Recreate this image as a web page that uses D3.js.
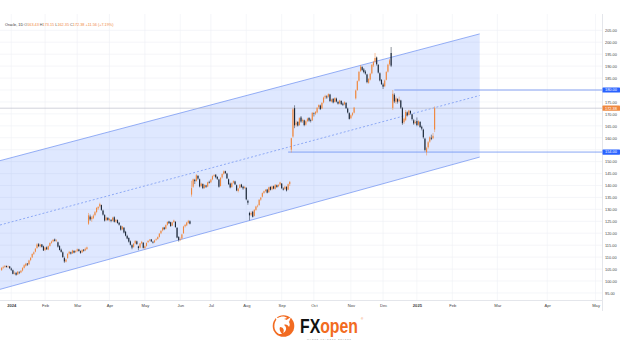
<!DOCTYPE html>
<html>
<head>
<meta charset="utf-8">
<script src="https://cdn.jsdelivr.net/npm/d3@7"></script>
<style>
    body { margin: 0; background: #fff; }
    text { font-family: "Liberation Sans", Arial, sans-serif; }
</style>
</head>
<body>
<div id="chart"></div>
<script>
// Oracle daily candles [open, high, low, close], 21 Dec 2023 .. 21 Jan 2025
// bar index of the first row (0 = 2 Jan 2024)
const firstBar = -6;
const candles = [
    [104.6,105.8,104.2,105.5],[105.6,106.4,105.1,105.9],[105.9,106.7,105.5,106.2],[106.3,106.5,105.6,105.9],
    [105.8,106.5,105.5,106.1],[106.1,106.3,105.0,105.4],
    // Jan 2024
    [105.2,105.6,104.2,104.7],[104.5,104.8,102.8,103.0],[103.1,104.0,102.7,103.3],[103.4,103.8,102.2,102.6],
    [102.8,104.2,102.5,103.9],[103.7,104.1,102.9,103.5],[103.6,104.6,103.3,104.3],[104.4,105.8,104.0,105.4],
    [105.5,107.0,105.2,106.6],[106.4,107.6,106.0,107.2],[107.3,107.5,106.3,106.9],[107.0,108.9,106.8,108.6],
    [108.8,110.0,108.3,109.7],[109.9,111.6,109.6,111.3],[111.4,112.4,110.9,112.0],[112.3,113.8,112.0,113.5],
    [113.8,115.8,113.5,115.3],[115.4,115.9,114.2,114.6],[114.6,115.6,114.0,115.2],[115.3,115.5,114.0,114.3],
    [114.5,114.8,112.6,112.8],
    // Feb
    [113.0,114.3,112.5,114.0],[114.1,114.5,113.0,113.3],[113.2,114.9,112.9,114.6],[114.7,116.2,114.4,115.9],
    [116.0,116.9,115.6,116.5],[116.6,117.6,116.2,117.2],[117.4,117.8,116.5,116.8],[116.9,117.5,116.3,117.0],
    [116.2,116.5,114.0,114.4],[114.6,115.0,112.8,113.0],[113.1,113.6,111.9,112.2],[112.0,112.4,109.7,110.0],
    [109.6,110.2,107.6,108.2],[108.1,109.3,107.8,109.0],[109.6,111.6,109.3,111.4],[111.5,112.6,111.1,112.2],
    [112.0,112.3,111.1,111.5],[111.6,113.1,111.3,112.8],[112.6,112.9,111.6,111.9],[112.1,112.9,111.8,112.5],
    // Mar
    [112.6,113.6,112.2,113.3],[113.2,113.5,112.3,112.6],[112.5,112.8,111.4,111.8],[112.0,113.3,111.7,113.0],
    [113.1,113.4,112.3,112.7],[112.8,114.0,112.5,113.5],[113.4,114.4,113.0,114.1],[124.0,128.5,123.5,127.5],
    [127.0,127.8,125.2,125.8],[125.9,127.2,124.8,126.6],[126.3,127.9,125.9,127.4],[127.6,129.3,127.1,128.8],
    [128.9,130.9,128.4,130.6],[130.4,131.4,129.7,131.0],[131.3,132.8,130.8,132.2],[131.8,132.0,129.4,129.8],
    [129.5,129.9,127.4,127.8],[127.6,128.0,124.9,125.3],[125.6,126.9,125.1,126.5],[126.4,126.8,125.2,125.6],
    // Apr
    [125.5,126.4,124.9,126.0],[125.6,125.9,124.6,125.2],[125.3,126.9,125.0,126.5],[126.7,127.1,124.5,124.8],
    [124.9,126.0,124.4,125.6],[125.5,125.8,124.0,124.3],[124.4,124.7,123.2,123.6],[123.0,123.4,121.1,121.5],
    [121.7,123.1,121.3,122.8],[122.3,122.6,119.9,120.3],[120.6,121.0,118.7,119.0],[118.9,119.4,117.5,117.8],
    [118.0,118.3,116.1,116.5],[116.6,117.0,114.9,115.2],[115.0,115.4,113.3,114.0],[114.3,115.9,113.9,115.6],
    [115.8,117.1,115.4,116.8],[116.6,116.9,115.1,115.5],[114.5,114.8,112.9,113.8],[114.0,115.9,113.7,115.7],
    [115.8,116.8,115.4,116.4],[116.0,116.3,113.6,113.9],
    // May
    [113.8,114.9,113.2,114.5],[114.7,116.2,114.4,115.9],[116.3,117.1,115.9,116.8],[117.0,117.6,116.6,117.3],
    [117.4,117.6,116.3,116.6],[116.4,116.8,115.7,116.1],[116.2,117.3,116.0,117.0],[117.2,117.9,116.8,117.5],
    [117.6,118.7,117.3,118.4],[118.5,120.1,118.2,119.8],[120.0,121.3,119.6,121.0],[121.2,122.6,120.8,122.3],
    [122.4,122.7,121.3,121.7],[121.9,123.7,121.6,123.4],[123.5,125.0,123.2,124.7],[124.9,125.2,123.9,124.2],
    [124.6,124.8,122.7,123.0],[123.2,124.8,123.0,124.5],[124.7,125.7,124.3,125.3],[124.8,125.0,122.3,122.6],
    [122.3,122.5,117.9,118.2],[118.4,118.8,116.5,117.2],
    // Jun
    [117.5,118.2,116.8,117.6],[117.8,119.8,117.5,119.5],[120.0,123.1,119.8,122.8],[122.9,123.9,122.4,123.5],
    [123.3,124.8,123.0,124.5],[124.4,125.6,124.0,125.2],[125.0,125.4,123.7,124.0],[136.2,142.0,135.3,138.9],
    [139.5,142.9,139.0,142.6],[142.4,142.8,140.6,141.8],[141.9,144.8,141.6,144.3],[144.0,144.4,142.4,142.9],
    [142.6,142.9,139.2,139.6],[139.8,141.2,139.3,140.8],[140.6,140.9,138.5,138.9],[139.0,140.5,138.6,140.2],
    [140.0,140.3,139.0,139.5],[139.6,141.6,139.3,141.3],[141.5,142.0,140.8,141.2],
    // Jul
    [141.4,142.8,141.0,142.5],[142.6,144.2,142.2,143.9],[144.0,144.7,143.6,144.3],[144.5,144.8,143.0,143.5],
    [143.6,143.9,142.3,142.8],[142.5,142.8,139.1,139.5],[139.8,143.5,139.6,143.2],[143.4,145.1,142.9,144.8],
    [144.9,146.3,144.5,145.9],[146.0,146.2,144.8,145.2],[145.0,145.3,142.7,143.0],[142.6,142.9,140.2,140.6],
    [140.8,141.2,138.8,139.2],[139.4,141.3,139.0,141.0],[141.2,142.2,140.8,141.8],[141.7,142.0,140.2,140.5],
    [140.1,140.4,137.6,137.9],[137.7,139.0,137.1,138.7],[139.0,140.6,138.7,140.3],[140.4,140.7,139.0,139.4],
    [139.5,139.9,138.2,138.8],[139.0,139.8,138.5,139.4],
    // Aug
    [139.0,139.3,133.8,134.2],[133.6,134.1,131.9,132.8],[128.5,129.0,125.4,127.5],[127.8,129.2,127.2,128.5],
    [129.0,129.4,126.6,126.9],[127.3,130.1,127.0,129.8],[129.8,131.5,129.4,131.2],[131.4,132.0,130.8,131.5],
    [131.8,134.3,131.5,134.0],[134.1,135.2,133.6,134.9],[135.3,137.1,135.0,136.8],[136.9,137.9,136.5,137.6],
    [137.7,138.5,137.2,138.2],[138.3,138.6,136.7,137.0],[137.2,139.5,136.9,139.2],[139.4,139.7,137.9,138.2],
    [138.4,139.9,138.0,139.6],[139.7,140.0,138.4,138.7],[138.6,140.6,138.3,140.3],[140.1,140.4,139.0,139.4],
    [139.7,140.6,139.3,140.2],[140.4,141.6,139.9,141.3],
    // Sep
    [140.8,141.0,138.5,138.9],[138.7,139.2,137.9,138.3],[138.5,139.9,138.2,139.5],[139.4,139.7,137.5,137.9],
    [138.3,140.8,138.0,140.5],[140.6,141.9,139.8,141.5],[155.0,160.0,153.8,159.8],[160.5,172.6,160.0,171.9],
    [172.4,173.6,164.0,165.2],[165.5,167.2,164.6,166.3],[166.6,167.0,164.7,165.1],[165.3,168.6,165.0,168.2],
    [168.5,169.1,166.3,166.8],[166.9,168.0,166.2,167.5],[167.3,167.6,164.8,165.3],[165.5,167.3,165.1,166.9],
    [167.0,168.4,166.5,168.0],[168.3,168.6,166.7,167.2],[167.4,168.0,166.4,167.1],[167.3,170.8,167.0,170.4],
    // Oct
    [170.2,170.6,168.9,170.0],[170.1,171.2,169.5,170.8],[170.6,172.9,170.2,172.5],[172.8,174.0,172.1,173.7],
    [173.5,173.9,171.6,172.0],[172.3,174.9,172.0,174.6],[174.8,177.2,174.4,176.8],[176.9,178.0,176.2,177.5],
    [177.3,177.8,176.3,176.9],[177.2,178.6,176.8,178.3],[178.1,178.4,175.0,175.4],[175.2,176.4,174.8,176.0],
    [176.3,176.6,174.4,174.8],[175.0,177.0,174.7,176.6],[176.4,176.8,174.8,175.2],[175.0,175.5,173.9,174.3],
    [174.4,175.9,174.0,175.6],[175.4,175.7,173.7,174.1],[174.3,174.8,173.3,173.8],[174.0,175.3,173.6,174.9],
    [174.6,174.9,172.1,172.4],[172.2,172.6,170.2,170.6],[170.3,170.7,167.6,167.9],
    // Nov
    [168.2,169.8,167.8,169.4],[169.6,170.7,169.0,170.3],[170.5,172.9,170.2,172.6],[176.5,180.2,176.0,179.8],
    [180.0,184.0,179.6,183.7],[183.9,188.0,183.5,187.6],[188.0,190.5,187.5,189.8],[189.6,190.0,187.9,188.4],
    [188.6,189.2,187.0,187.5],[187.7,188.3,186.4,186.9],[186.5,186.8,182.8,183.3],[183.0,185.0,182.6,184.6],
    [184.4,187.2,184.0,186.8],[187.0,190.9,186.6,190.5],[190.3,192.2,189.6,191.7],[191.9,195.5,191.4,193.4],
    [193.6,194.0,190.2,190.8],[190.5,190.9,186.9,187.3],[187.0,187.4,183.6,184.0],[184.2,184.6,182.1,182.5],
    // Dec
    [182.3,183.0,180.4,181.4],[181.6,184.4,181.2,184.0],[184.3,187.9,184.0,187.5],[187.7,191.0,187.3,190.6],
    [190.8,193.0,190.2,192.4],[195.5,198.0,189.6,190.2],[172.5,180.0,171.6,178.4],[178.0,178.6,174.5,175.2],
    [175.0,177.3,174.2,176.5],[176.2,176.6,174.3,175.1],[175.3,177.2,174.8,176.0],[175.6,175.9,172.1,172.6],
    [172.4,172.9,165.4,166.1],[166.5,168.5,165.8,168.0],[167.5,171.6,167.0,170.8],[170.6,171.0,168.9,169.4],
    [169.6,171.7,169.3,171.4],[171.2,171.5,169.8,170.2],[169.8,170.1,167.2,167.8],[167.3,167.9,165.4,166.0],
    [166.2,167.3,165.7,166.6],
    // Jan 2025
    [167.0,168.5,164.8,165.3],[165.5,167.3,165.0,166.9],[166.6,167.0,164.1,164.5],[164.6,165.1,163.1,163.8],
    [163.4,163.8,159.6,160.2],[159.6,160.0,154.3,154.9],[154.0,156.2,152.6,155.6],[156.0,158.6,155.4,158.1],
    [158.4,160.6,157.9,160.2],[160.0,161.3,159.0,159.6],[159.8,162.0,159.4,160.82],[163.43,173.15,162.35,172.38]
];

// price axis ticks
const priceTicks = [95, 100, 105, 110, 115, 120, 125, 130, 135, 140, 145, 150,
    155, 160, 165, 170, 175, 180, 185, 190, 195, 200, 205];

// time axis: label and the bar it sits on (future months projected by calendar day)
const monthLabels = ["2024", "Feb", "Mar", "Apr", "May", "Jun", "Jul", "Aug", "Sep", "Oct",
    "Nov", "Dec", "2025", "Feb", "Mar", "Apr", "May"];
const monthBars = [0, 21, 41, 61, 83, 105, 124, 146, 168, 188, 211, 231, 252, 274, 302, 333, 363];

// parallel channel anchors (bar, upper price, lower price)
const channelBars = [-7, 291];
const channelUpper = [150.4, 203.5];
const channelLower = [96.5, 151.9];

// horizontal levels and the bar they start from
const levelPrices = [180, 154];
const levelBars = [238, 172];

const lastPrice = 172.38;
const headerName = "Oracle, 1D";
const headerValues = [["O", "163.43"], ["H", "173.15"], ["L", "162.35"], ["C", "172.38"], ["", "+11.56 (+7.19%)"]];

const upColor = "#f0883e";
const downColor = "#1c2838";
const blue = "#2962ff";

const W = 625, H = 343;
const plot = { left: 0, right: 602, top: 14, bottom: 300 };

const svg = d3.select('#chart')
    .append('svg')
    .attr('width', W)
    .attr('height', H)
    .style('display', 'block');

svg.append('rect').attr('width', W).attr('height', H).attr('fill', '#fff');

svg.append('defs').append('clipPath')
    .attr('id', 'plotClip')
    .append('rect')
    .attr('x', plot.left).attr('y', plot.top)
    .attr('width', plot.right - plot.left)
    .attr('height', plot.bottom - plot.top);

const x = d3.scaleLinear().domain([-7, 367]).range([plot.left, plot.right]);
const y = d3.scaleLinear().domain([100, 180]).range([281, 90]);

const pane = svg.append('g').attr('clip-path', 'url(#plotClip)');

// grid
pane.selectAll('line.hgrid')
    .data(priceTicks)
    .enter()
    .append('line')
    .attr('x1', plot.left).attr('x2', plot.right)
    .attr('y1', d => y(d)).attr('y2', d => y(d))
    .attr('stroke', '#eef0f5').attr('stroke-width', 0.6);

pane.selectAll('line.vgrid')
    .data(monthBars)
    .enter()
    .append('line')
    .attr('x1', d => x(d)).attr('x2', d => x(d))
    .attr('y1', plot.top).attr('y2', plot.bottom)
    .attr('stroke', '#eef0f5').attr('stroke-width', 0.6);

// channel
const chUp = channelBars.map((b, k) => [x(b), y(channelUpper[k])]);
const chLo = channelBars.map((b, k) => [x(b), y(channelLower[k])]);
const chMid = channelBars.map((b, k) => [x(b), y((channelUpper[k] + channelLower[k]) / 2)]);

pane.append('path')
    .attr('d', d3.line()([chUp[0], chUp[1], chLo[1], chLo[0]]) + 'Z')
    .attr('fill', blue).attr('fill-opacity', 0.15);

[chUp, chLo].forEach(pts => {
    pane.append('path')
        .attr('d', d3.line()(pts))
        .attr('stroke', '#6a8ef0').attr('stroke-width', 0.7).attr('fill', 'none');
});

pane.append('path')
    .attr('d', d3.line()(chMid))
    .attr('stroke', '#6a8ef0').attr('stroke-width', 0.7)
    .attr('stroke-dasharray', '2,2').attr('fill', 'none');

// last price line
pane.append('line')
    .attr('x1', plot.left).attr('x2', plot.right)
    .attr('y1', y(lastPrice)).attr('y2', y(lastPrice))
    .attr('stroke', '#b3b6c2').attr('stroke-width', 0.6);

// horizontal levels
pane.selectAll('line.level')
    .data(levelPrices)
    .enter()
    .append('line')
    .attr('x1', (d, k) => x(levelBars[k])).attr('x2', plot.right)
    .attr('y1', d => y(d)).attr('y2', d => y(d))
    .attr('stroke', '#6a8ef0').attr('stroke-width', 0.8);

// candles
const bars = candles.map((c, k) => ({ i: firstBar + k, o: c[0], h: c[1], l: c[2], c: c[3] }));
const colorOf = d => d.c >= d.o ? upColor : downColor;

const candle = pane.selectAll('g.candle')
    .data(bars)
    .enter()
    .append('g');

candle.append('line')
    .attr('x1', d => x(d.i)).attr('x2', d => x(d.i))
    .attr('y1', d => y(d.h)).attr('y2', d => y(d.l))
    .attr('stroke', colorOf).attr('stroke-width', 0.5);

candle.append('rect')
    .attr('x', d => x(d.i) - 0.55)
    .attr('width', 1.1)
    .attr('y', d => y(Math.max(d.o, d.c)))
    .attr('height', d => Math.max(0.5, Math.abs(y(d.o) - y(d.c))))
    .attr('fill', colorOf);

// header
const header = svg.append('text')
    .attr('x', 5).attr('y', 25.5)
    .attr('font-size', 3.8);
header.append('tspan').attr('fill', '#333').text(headerName + ' ');
headerValues.forEach(v => {
    header.append('tspan').attr('fill', '#555').text(v[0]);
    header.append('tspan').attr('fill', upColor).text(v[1] + ' ');
});

// separators
svg.append('line')
    .attr('x1', 0).attr('x2', plot.right)
    .attr('y1', plot.bottom + 0.5).attr('y2', plot.bottom + 0.5)
    .attr('stroke', '#d8dbe2').attr('stroke-width', 0.7);
svg.append('line')
    .attr('x1', plot.right + 0.5).attr('x2', plot.right + 0.5)
    .attr('y1', plot.top).attr('y2', 311)
    .attr('stroke', '#d8dbe2').attr('stroke-width', 0.7);

// price axis: labels that would sit under a price tag are hidden
const tagPrices = levelPrices.concat([lastPrice]);
const shownTicks = priceTicks.filter(p => tagPrices.every(t => Math.abs(y(p) - y(t)) > 4.5));

const yAxis = d3.axisRight(y)
    .tickValues(shownTicks)
    .tickFormat(d3.format('.2f'))
    .tickSize(0)
    .tickPadding(3);

svg.append('g')
    .attr('transform', `translate(${plot.right}, 0)`)
    .call(yAxis)
    .call(g => g.select('.domain').remove())
    .selectAll('text')
    .attr('font-size', 3.9)
    .attr('fill', '#444')
    .attr('font-family', '"Liberation Sans", Arial, sans-serif');

// time axis
const xAxis = d3.axisBottom(x)
    .tickValues(monthBars)
    .tickFormat((d, k) => monthLabels[k])
    .tickSize(0)
    .tickPadding(4.5);

svg.append('g')
    .attr('transform', `translate(0, ${plot.bottom})`)
    .call(xAxis)
    .call(g => g.select('.domain').remove())
    .selectAll('text')
    .attr('font-size', 4.1)
    .attr('fill', '#444')
    .attr('font-weight', (d, k) => /^\d{4}$/.test(monthLabels[k]) ? 'bold' : 'normal')
    .attr('font-family', '"Liberation Sans", Arial, sans-serif');

// price tags on the axis
const tags = levelPrices.map(p => ({ p: p, fill: blue })).concat([{ p: lastPrice, fill: upColor }]);
const tag = svg.selectAll('g.tag')
    .data(tags)
    .enter()
    .append('g');
tag.append('rect')
    .attr('x', plot.right + 0.5).attr('width', 17.5)
    .attr('y', d => y(d.p) - 2.6).attr('height', 5.2)
    .attr('rx', 0.6)
    .attr('fill', d => d.fill);
tag.append('text')
    .attr('x', plot.right + 3).attr('y', d => y(d.p) + 1.4)
    .attr('font-size', 3.9).attr('fill', '#fff')
    .text(d => d3.format('.2f')(d.p));

// FXOpen logo
const logo = svg.append('g');
logo.append('circle').attr('cx', 283.5).attr('cy', 326).attr('r', 10.8).attr('fill', '#f26b21');
logo.append('path')
    .attr('d', 'M279,334 C273,331 273,322 278,318 C281,316 285,316 287,318 L284,319 C289,320 291,324 289,327 C288,325 286,324 284,325 C287,327 287,331 283,333 C285,330 283,327 280,327 C279,329 280,332 282,334 Z')
    .attr('fill', '#fff');
logo.append('path')
    .attr('d', 'M285,321 L291,317 L289,322 Z M277,321 L275,316 L279,319 Z')
    .attr('fill', '#fff');
const brand = logo.append('text')
    .attr('transform', 'translate(300, 332.5) scale(0.79, 1)')
    .attr('font-size', 20).attr('font-weight', 900);
brand.append('tspan').attr('fill', '#111').text('FX');
brand.append('tspan').attr('fill', '#f26b21').text('open');
logo.append('text')
    .attr('x', 361).attr('y', 319.5)
    .attr('font-size', 3).attr('fill', '#f26b21')
    .text('®');
logo.append('text')
    .attr('x', 307).attr('y', 339.5)
    .attr('font-size', 1.8).attr('fill', '#888')
    .attr('textLength', 44)
    .text('WHERE TRADERS BELONG');
</script>
</body>
</html>
